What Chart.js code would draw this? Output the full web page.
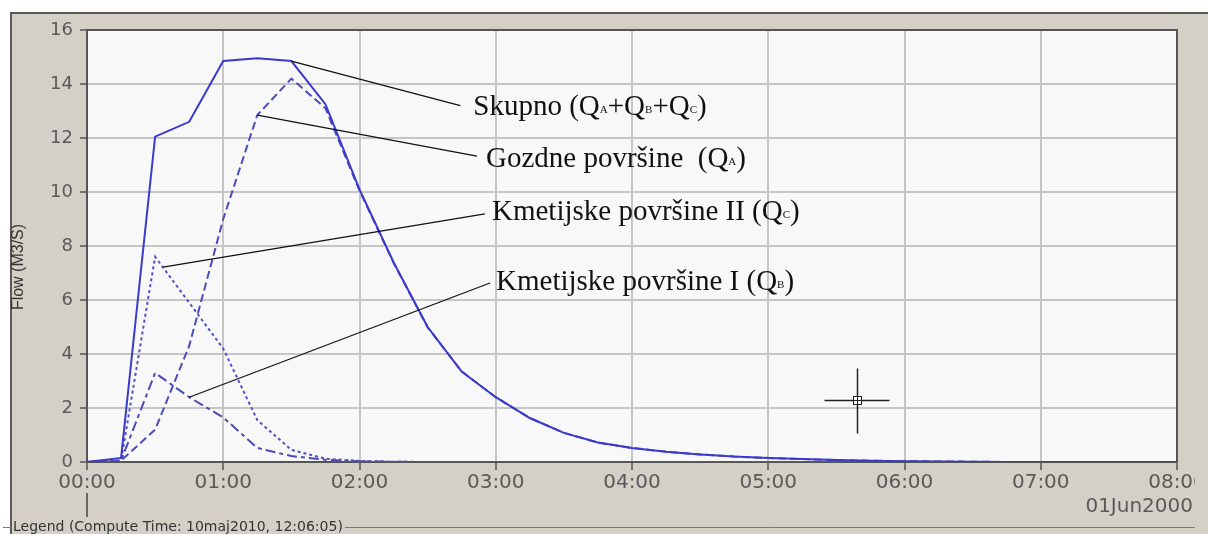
<!DOCTYPE html>
<html>
<head>
<meta charset="utf-8">
<script src="https://cdn.jsdelivr.net/npm/chart.js@4.4.0/dist/chart.umd.min.js"></script>
<style>
  html, body { margin: 0; padding: 0; background: #fff; }
  #wrap { position: relative; width: 1208px; height: 534px; overflow: hidden; }
  #panel { position: absolute; left: 10px; top: 12px; right: 0; bottom: 0; background: #d4d0c8;
           border-top: 2px solid #5a5a5a; border-left: 2px solid #5a5a5a; }
  #hydro { position: absolute; left: 0; top: 0; }
</style>
</head>
<body>
<div id="wrap">
  <div id="panel"></div>
  <canvas id="hydro" width="1195" height="534"></canvas>
</div>
<script>
// 15 minute steps of the hydrograph
const timeSteps = ['00:00','00:15','00:30','00:45','01:00','01:15','01:30','01:45',
                   '02:00','02:15','02:30','02:45','03:00','03:15','03:30','03:45',
                   '04:00','04:15','04:30','04:45','05:00','05:15','05:30','05:45',
                   '06:00','06:15','06:30','06:45','07:00','07:15','07:30','07:45','08:00'];

// flow in m3/s
const flowTotal  = [0, 0.15, 12.05, 12.6, 14.85, 14.95, 14.85, 13.25, 10.1, 7.4, 5.0, 3.35,
                    2.4, 1.63, 1.08, 0.72, 0.52, 0.38, 0.28, 0.2, 0.15, 0.11, 0.07, 0.05,
                    0.03, 0.02, 0.01, 0, 0, 0, 0, 0, 0];
const flowForest = [0, 0.05, 1.2, 4.3, 9.0, 12.85, 14.2, 13.1, 10.05, 7.38, 4.99, 3.35,
                    2.4, 1.63, 1.08, 0.72, 0.52, 0.38, 0.28, 0.2, 0.15, 0.11, 0.07, 0.05,
                    0.03, 0.02, 0.01, 0, 0, 0, 0, 0, 0];
const flowFarm2  = [0, 0.05, 7.6, 5.9, 4.2, 1.55, 0.45, 0.12, 0.04, 0.01, 0, 0,
                    0, 0, 0, 0, 0, 0, 0, 0, 0, 0, 0, 0, 0, 0, 0, 0, 0, 0, 0, 0, 0];
const flowFarm1  = [0, 0.05, 3.3, 2.4, 1.65, 0.52, 0.22, 0.08, 0.03, 0.01, 0, 0,
                    0, 0, 0, 0, 0, 0, 0, 0, 0, 0, 0, 0, 0, 0, 0, 0, 0, 0, 0, 0, 0];

const hourLabels = ['00:00','01:00','02:00','03:00','04:00','05:00','06:00','07:00','08:00'];
const dateLabel = '01Jun2000';
const legendCaption = 'Legend (Compute Time: 10maj2010, 12:06:05)';

// callouts: text (_X = small subscript letter), point on the curve, end of leader line
const notes = [
  { text: 'Skupno (Q_A+Q_B+Q_C)',        from: [1.5, 14.85],  to: [2.74, 13.2],  dx: 13, base: 115 },
  { text: 'Gozdne površine  (Q_A)',      from: [1.25, 12.85], to: [2.862, 11.33], dx: 9,  base: 167 },
  { text: 'Kmetijske površine II (Q_C)', from: [0.558, 7.22], to: [2.921, 9.19],  dx: 7,  base: 220 },
  { text: 'Kmetijske površine I (Q_B)',  from: [0.75, 2.4],   to: [2.958, 6.63],  dx: 6,  base: 290 }
];
const cursorAt = [5.65, 2.3];

function toHours(t) {
  return parseInt(t.slice(0, 2), 10) + parseInt(t.slice(3), 10) / 60;
}
function points(series) {
  return timeSteps.map((t, i) => ({ x: toHours(t), y: series[i] }));
}

function drawNote(ctx, note, x, base) {
  const parts = note.split(/_(.)/);
  let cx = x;
  parts.forEach((p, i) => {
    if (i % 2 === 0) {
      ctx.font = '29px "Liberation Serif", "Times New Roman", serif';
      ctx.fillText(p, cx, base);
    } else {
      ctx.font = '11px "Liberation Serif", "Times New Roman", serif';
      ctx.fillText(p, cx, base - 2);
    }
    cx += ctx.measureText(p).width;
  });
}

const decor = {
  id: 'decor',
  beforeDraw(chart) {
    const { ctx, chartArea: a } = chart;
    ctx.save();
    ctx.fillStyle = '#f8f8f8';
    ctx.fillRect(a.left, a.top, a.right - a.left, a.bottom - a.top);
    ctx.restore();
  },
  afterDraw(chart) {
    const { ctx, chartArea: a, scales: { x, y } } = chart;
    ctx.save();

    // frame on top and right of the plot
    ctx.strokeStyle = '#555';
    ctx.lineWidth = 2;
    ctx.beginPath();
    ctx.moveTo(a.left, a.top);
    ctx.lineTo(a.right, a.top);
    ctx.lineTo(a.right, a.bottom);
    ctx.stroke();

    // y axis title
    ctx.save();
    ctx.translate(19, 267);
    ctx.rotate(-Math.PI / 2);
    ctx.fillStyle = '#333';
    ctx.font = '16px "Liberation Sans", Arial, sans-serif';
    ctx.textAlign = 'center';
    ctx.textBaseline = 'middle';
    ctx.fillText('Flow (M3/S)', 0, 0);
    ctx.restore();

    // day marker and date
    ctx.strokeStyle = '#444';
    ctx.lineWidth = 1.5;
    ctx.beginPath();
    ctx.moveTo(x.getPixelForValue(0), 493);
    ctx.lineTo(x.getPixelForValue(0), 517);
    ctx.stroke();
    ctx.fillStyle = '#5a5a5a';
    ctx.font = '20px "DejaVu Sans", Verdana, sans-serif';
    ctx.textAlign = 'right';
    ctx.textBaseline = 'middle';
    ctx.fillText(dateLabel, 1193, 507);

    // legend group box caption
    ctx.font = '14px "DejaVu Sans", Verdana, sans-serif';
    ctx.textAlign = 'left';
    ctx.fillStyle = '#333';
    const capW = ctx.measureText(legendCaption).width;
    ctx.strokeStyle = '#7a7a7a';
    ctx.lineWidth = 1;
    ctx.beginPath();
    ctx.moveTo(3, 527.5); ctx.lineTo(11, 527.5);
    ctx.moveTo(15 + capW, 527.5); ctx.lineTo(1195, 527.5);
    ctx.stroke();
    ctx.fillText(legendCaption, 13, 527);

    // callouts
    ctx.strokeStyle = '#111';
    ctx.fillStyle = '#111';
    ctx.lineWidth = 1.2;
    ctx.textAlign = 'left';
    ctx.textBaseline = 'alphabetic';
    notes.forEach(n => {
      const x0 = x.getPixelForValue(n.from[0]), y0 = y.getPixelForValue(n.from[1]);
      const x1 = x.getPixelForValue(n.to[0]),   y1 = y.getPixelForValue(n.to[1]);
      ctx.beginPath();
      ctx.moveTo(x0, y0);
      ctx.lineTo(x1, y1);
      ctx.stroke();
      drawNote(ctx, n.text, x1 + n.dx, n.base);
    });

    // cursor cross
    const cx = Math.round(x.getPixelForValue(cursorAt[0])) + 0.5;
    const cy = Math.round(y.getPixelForValue(cursorAt[1])) + 0.5;
    ctx.strokeStyle = '#222';
    ctx.lineWidth = 1.5;
    ctx.beginPath();
    ctx.moveTo(cx - 33, cy); ctx.lineTo(cx - 4, cy);
    ctx.moveTo(cx + 4, cy); ctx.lineTo(cx + 32, cy);
    ctx.moveTo(cx, cy - 32); ctx.lineTo(cx, cy - 4);
    ctx.moveTo(cx, cy + 4); ctx.lineTo(cx, cy + 33);
    ctx.stroke();
    ctx.lineWidth = 1;
    ctx.strokeRect(cx - 4, cy - 4, 8, 8);
    ctx.beginPath();
    ctx.moveTo(cx - 4, cy); ctx.lineTo(cx + 4, cy);
    ctx.moveTo(cx, cy - 4); ctx.lineTo(cx, cy + 4);
    ctx.stroke();

    ctx.restore();
  }
};

const tickFont = { family: '"DejaVu Sans", Verdana, sans-serif' };

new Chart(document.getElementById('hydro'), {
  type: 'line',
  data: {
    datasets: [
      { label: 'Skupno', data: points(flowTotal), borderColor: '#3a3acc', borderWidth: 2 },
      { label: 'Gozdne površine', data: points(flowForest), borderColor: '#4b4bbb', borderWidth: 2, borderDash: [8, 4] },
      { label: 'Kmetijske površine II', data: points(flowFarm2), borderColor: '#5050c4', borderWidth: 2, borderDash: [3, 3] },
      { label: 'Kmetijske površine I', data: points(flowFarm1), borderColor: '#4b4bb4', borderWidth: 2, borderDash: [10, 4, 4, 4] }
    ]
  },
  options: {
    responsive: false,
    animation: false,
    parsing: false,
    elements: { point: { radius: 0 }, line: { tension: 0 } },
    layout: { padding: { left: 0, top: 30, right: 18, bottom: 0 } },
    plugins: { legend: { display: false }, tooltip: { enabled: false } },
    scales: {
      x: {
        type: 'linear',
        min: 0, max: 8,
        ticks: {
          stepSize: 1,
          autoSkip: false,
          maxRotation: 0,
          padding: 1,
          color: '#5a5a5a',
          font: { ...tickFont, size: 20 },
          callback: (v) => hourLabels[v]
        },
        grid: { color: '#c6c6c6', lineWidth: 2, tickColor: '#555', tickLength: 8, tickWidth: 1.5 },
        border: { color: '#555', width: 2 },
        afterFit: (s) => { s.height = 72; s.paddingLeft = 0; s.paddingRight = 0; }
      },
      y: {
        min: 0, max: 16,
        ticks: {
          stepSize: 2,
          padding: 7,
          color: '#5a5a5a',
          font: { ...tickFont, size: 18 }
        },
        grid: { color: '#c6c6c6', lineWidth: 2, tickColor: '#555', tickLength: 7, tickWidth: 1.5 },
        border: { color: '#555', width: 2 },
        afterFit: (s) => { s.width = 87; s.paddingTop = 0; s.paddingBottom = 0; }
      }
    }
  },
  plugins: [decor]
});
</script>
</body>
</html>
